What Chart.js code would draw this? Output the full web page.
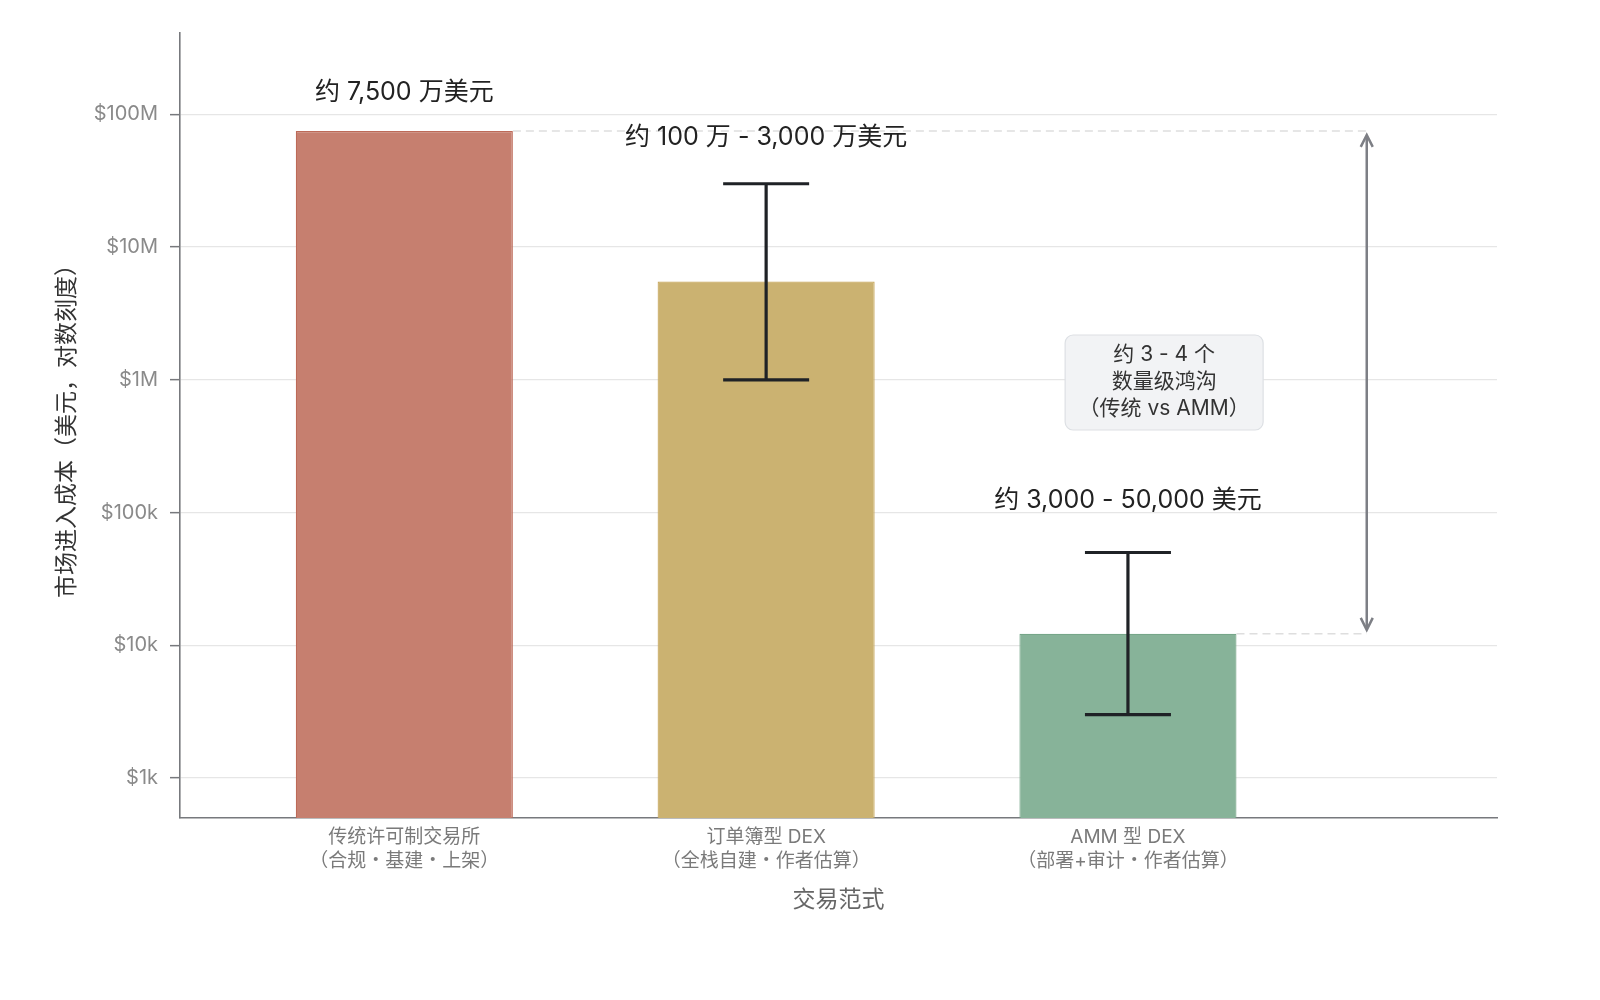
<!DOCTYPE html>
<html>
<head>
<meta charset="utf-8">
<title>市场进入成本</title>
<script src="https://cdn.jsdelivr.net/npm/chart.js@4/dist/chart.umd.min.js"></script>
<style>
    html, body { margin: 0; padding: 0; background: #fff; }
    #chart { display: block; }
</style>
</head>
<body>
<canvas id="chart" width="1600" height="1000"></canvas>
<script>
// Data
const categories = [
    ['传统许可制交易所', '（合规・基建・上架）'],
    ['订单簿型 DEX', '（全栈自建・作者估算）'],
    ['AMM 型 DEX', '（部署+审计・作者估算）']
];
const costMid = [75000000, 5500000, 12200];
const costLow = [null, 1000000, 3000];
const costHigh = [null, 30000000, 50000];
const valueLabels = ['约 7,500 万美元', '约 100 万 - 3,000 万美元', '约 3,000 - 50,000 美元'];
const yTicks = [1e3, 1e4, 1e5, 1e6, 1e7, 1e8];
const yTickLabels = ['$1k', '$10k', '$100k', '$1M', '$10M', '$100M'];
const gapNote = ['约 3 - 4 个', '数量级鸿沟', '（传统 vs AMM）'];

const barFill = ['#c67f6f', '#cbb271', '#87b399'];
const barEdge = ['#bd6a58', '#c8a85e', '#76a689'];

const FONT = "Inter, 'Noto Sans CJK SC', sans-serif";
Chart.defaults.font.family = FONT;

const Y_MIN = 500;
const Y_MAX = 4.1e8;

/**
 * Error bars, value labels, gap arrow and note box
 */
const annotations = {
    id: 'annotations',
    afterDatasetsDraw(chart) {
        const ctx = chart.ctx;
        const x = chart.scales.x;
        const y = chart.scales.y;
        const meta = chart.getDatasetMeta(0);
        const arrowX = x.getPixelForValue(2.66);

        ctx.save();

        // dashed reference lines from bar tops to the arrow
        ctx.strokeStyle = '#dedede';
        ctx.lineWidth = 1.5;
        ctx.setLineDash([8, 5]);
        [0, 2].forEach(i => {
            const bar = meta.data[i];
            const py = y.getPixelForValue(costMid[i]);
            ctx.beginPath();
            ctx.moveTo(bar.x + bar.width / 2, py);
            ctx.lineTo(arrowX, py);
            ctx.stroke();
        });
        ctx.setLineDash([]);

        // error bars
        ctx.strokeStyle = '#1f2226';
        ctx.lineWidth = 3.2;
        costMid.forEach((v, i) => {
            if (costLow[i] == null) return;
            const cx = x.getPixelForValue(i);
            const lo = y.getPixelForValue(costLow[i]);
            const hi = y.getPixelForValue(costHigh[i]);
            const cap = 43;
            ctx.beginPath();
            ctx.moveTo(cx, lo);
            ctx.lineTo(cx, hi);
            ctx.moveTo(cx - cap, lo);
            ctx.lineTo(cx + cap, lo);
            ctx.moveTo(cx - cap, hi);
            ctx.lineTo(cx + cap, hi);
            ctx.stroke();
        });

        // value labels, lifted above the bar top or the upper cap
        const lift = [38, 46, 52];
        ctx.fillStyle = '#222';
        ctx.font = '25px ' + FONT;
        ctx.textAlign = 'center';
        ctx.textBaseline = 'middle';
        valueLabels.forEach((t, i) => {
            const top = costHigh[i] != null ? costHigh[i] : costMid[i];
            ctx.fillText(t, x.getPixelForValue(i), y.getPixelForValue(top) - lift[i]);
        });

        // double headed arrow between AMM and traditional
        const a1 = y.getPixelForValue(costMid[0]) + 4;
        const a2 = y.getPixelForValue(costMid[2]) - 4;
        ctx.strokeStyle = '#7d7f85';
        ctx.lineWidth = 2.5;
        ctx.beginPath();
        ctx.moveTo(arrowX, a1 + 2);
        ctx.lineTo(arrowX, a2 - 2);
        ctx.stroke();
        ctx.beginPath();
        ctx.moveTo(arrowX - 6, a1 + 12);
        ctx.lineTo(arrowX, a1);
        ctx.lineTo(arrowX + 6, a1 + 12);
        ctx.moveTo(arrowX - 6, a2 - 12);
        ctx.lineTo(arrowX, a2);
        ctx.lineTo(arrowX + 6, a2 - 12);
        ctx.stroke();

        // note box
        const bw = 198;
        const bh = 95;
        const bx = x.getPixelForValue(2.1) - bw / 2;
        const by = 335;
        ctx.fillStyle = '#f2f3f5';
        ctx.strokeStyle = '#dde0e4';
        ctx.lineWidth = 1.2;
        ctx.beginPath();
        ctx.roundRect(bx, by, bw, bh, 8);
        ctx.fill();
        ctx.stroke();
        ctx.fillStyle = '#333';
        ctx.font = '21px ' + FONT;
        gapNote.forEach((t, i) => {
            ctx.fillText(t, bx + bw / 2, by + 20 + i * 27);
        });

        ctx.restore();
    }
};

const ctx = document.getElementById('chart').getContext('2d');
new Chart(ctx, {
    type: 'bar',
    data: {
        datasets: [{
            data: costMid.map((v, i) => ({ x: i, y: v })),
            backgroundColor: barFill,
            borderColor: barEdge,
            borderWidth: 1.2,
            base: Y_MIN,
            barPercentage: 0.6,
            categoryPercentage: 1
        }]
    },
    options: {
        responsive: false,
        animation: false,
        devicePixelRatio: 1,
        layout: {
            padding: { left: 0, top: 33, right: 103, bottom: 0 }
        },
        plugins: {
            legend: { display: false },
            tooltip: { enabled: false }
        },
        scales: {
            x: {
                type: 'linear',
                offset: false,
                min: -0.62,
                max: 3.02,
                afterBuildTicks: scale => {
                    scale.ticks = categories.map((c, i) => ({ value: i }));
                },
                afterFit: scale => { scale.height = 182; },
                grid: { display: false, drawTicks: false, tickLength: 0 },
                border: { display: true, color: '#77797d', width: 1.6 },
                ticks: {
                    autoSkip: false,
                    maxRotation: 0,
                    padding: 7,
                    color: '#7a7a7a',
                    font: { size: 19, lineHeight: 1.26 },
                    callback: v => categories[v]
                },
                title: {
                    display: true,
                    text: '交易范式',
                    color: '#666',
                    font: { size: 23 },
                    padding: { bottom: 86 }
                }
            },
            y: {
                type: 'logarithmic',
                min: Y_MIN,
                max: Y_MAX,
                afterBuildTicks: scale => {
                    scale.ticks = yTicks.map(v => ({ value: v }));
                },
                afterFit: scale => { scale.width = 180; },
                grid: {
                    color: '#e6e6e6',
                    lineWidth: 1.3,
                    tickColor: '#77797d',
                    tickLength: 10,
                    tickWidth: 1.5
                },
                border: { display: true, color: '#77797d', width: 1.6 },
                ticks: {
                    padding: 12,
                    color: '#8a8a8a',
                    font: { size: 20 },
                    callback: v => {
                        const k = yTicks.indexOf(v);
                        return k >= 0 ? yTickLabels[k] : '';
                    }
                },
                title: {
                    display: true,
                    text: '市场进入成本（美元，对数刻度）',
                    color: '#333',
                    font: { size: 23 },
                    padding: { top: 53 }
                }
            }
        }
    },
    plugins: [annotations]
});
</script>
</body>
</html>
